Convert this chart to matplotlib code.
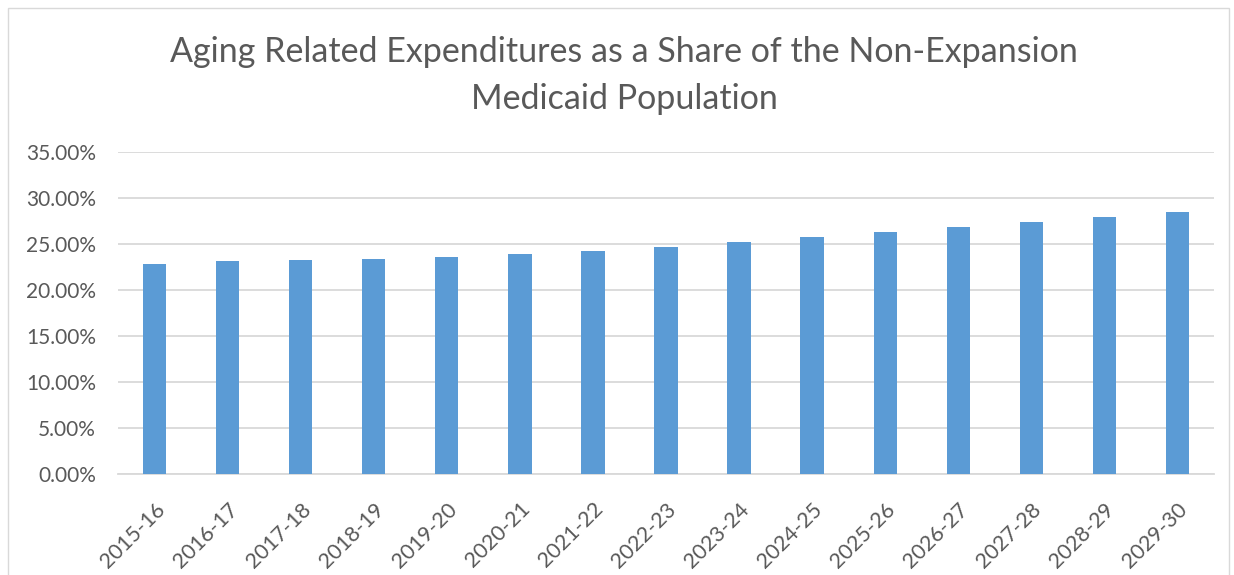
import matplotlib
matplotlib.use("Agg")
import matplotlib.pyplot as plt
from matplotlib.patches import Rectangle
from matplotlib.ticker import FuncFormatter, MultipleLocator

categories = ["2015-16", "2016-17", "2017-18", "2018-19", "2019-20", "2020-21",
              "2021-22", "2022-23", "2023-24", "2024-25", "2025-26", "2026-27",
              "2027-28", "2028-29", "2029-30"]
share = [0.2283, 0.2312, 0.2326, 0.2344, 0.2366, 0.2391, 0.2431, 0.2475,
         0.2522, 0.2576, 0.2630, 0.2685, 0.2747, 0.2801, 0.2855]
title_text = "Aging Related Expenditures as a Share of the Non-Expansion\nMedicaid Population"

plt.rcParams['font.family'] = ['Lato', 'DejaVu Sans']
W, H = 1234, 575
fig = plt.figure(figsize=(W / 100, H / 100), dpi=100)
fig.patch.set_facecolor("white")

# outer chart border
fig.patches.append(Rectangle((8 / W, -0.01), (1229 - 8) / W, 1 - 8 / H + 0.01,
                             transform=fig.transFigure, fill=False,
                             edgecolor="#d9d9d9", linewidth=1.0))

ax = fig.add_axes([118 / W, 1 - 474 / H, (1214 - 118) / W, (474 - 152.3) / H])
x = range(len(categories))
ax.bar(x, share, width=0.32, color="#5B9BD5", zorder=3)
ax.set_xlim(-0.5, len(categories) - 0.5)
ax.set_ylim(0, 0.35)
ax.yaxis.set_major_locator(MultipleLocator(0.05))
ax.yaxis.set_major_formatter(FuncFormatter(lambda v, p: f"{v*100:.2f}%"))
ax.grid(axis="y", color="#d9d9d9", linewidth=1.3, zorder=0)
for s in ["top", "right", "left"]:
    ax.spines[s].set_visible(False)
ax.spines["bottom"].set_color("#d9d9d9")
ax.spines["bottom"].set_linewidth(1.3)
ax.set_xticks(list(x))
ax.set_xticklabels(categories, rotation=45, ha="right", rotation_mode="anchor")
ax.tick_params(axis="both", length=0, labelcolor="#595959")
ax.tick_params(axis="y", pad=16, labelsize=15)
ax.tick_params(axis="x", pad=18, labelsize=15.5)

fig.text(0.506, 1 - 75.5 / H, title_text, ha="center", va="center",
         fontsize=24.5, color="#595959", linespacing=1.56)

fig.savefig("out.png", dpi=100)
